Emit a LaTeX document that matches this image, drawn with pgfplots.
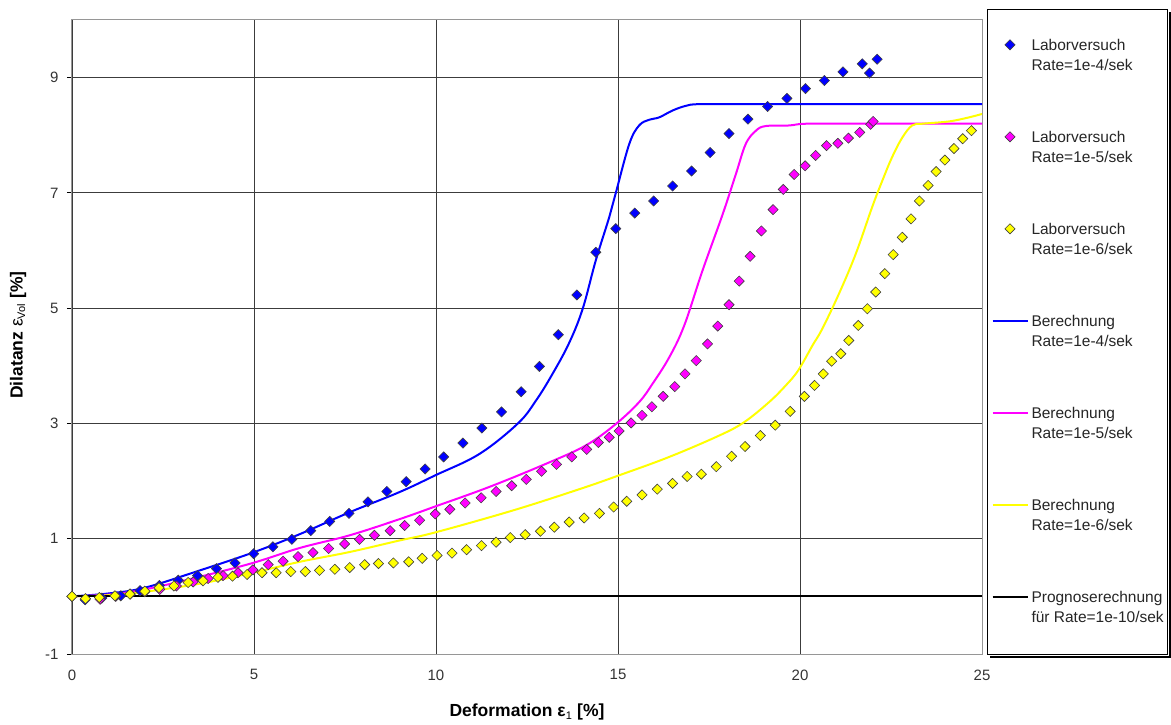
\documentclass[border=0pt]{standalone}
\usepackage{fontspec}
\setmainfont{Liberation Sans}
\usepackage{pgfplots}
\pgfplotsset{compat=1.18}

\definecolor{exblue}{RGB}{0,0,255}
\definecolor{exmag}{RGB}{255,0,255}
\definecolor{exyel}{RGB}{255,255,0}
\definecolor{gridc}{RGB}{60,60,60}
\definecolor{framec}{RGB}{150,150,150}

\pgfplotsset{
  leg line/.style={legend image code/.code={\draw[##1] (0pt,5.5pt) -- (35pt,5.5pt);}},
  leg mark/.style={legend image code/.code={\draw[##1] plot coordinates {(17.5pt,5.5pt)};}},
  labmark/.style={only marks, mark=square*, mark size=3.6pt,
    mark options={rotate=45, draw=black!75, line width=0.6pt, fill=#1}},
  calc line/.style={#1, line width=2pt, smooth, tension=0.6},
}

\newcommand{\legtext}[2]{\begin{tabular}[t]{@{}l@{}}#1\\#2\end{tabular}}

\begin{document}
\begin{tikzpicture}[x=1pt,y=1pt]
\path[use as bounding box] (0,0) rectangle (1171,724);
\begin{axis}[
  at={(72pt,70pt)}, anchor=south west,
  scale only axis, width=910pt, height=634pt,
  xmin=0, xmax=25, ymin=-1, ymax=10,
  xtick={0,5,10,15,20,25}, xticklabels={0,5,10,15,20,25},
  ytick={-1,1,3,5,7,9}, yticklabels={-1,1,3,5,7,9},
  xmajorgrids, ymajorgrids,
  grid style={gridc, line width=0.9pt},
  axis line style={framec, line width=1pt},
  tick align=outside, major tick length=5pt, tick pos=left,
  xtick style={draw=none},
  ytick style={black, line width=0.9pt},
  ticklabel style={font=\fontsize{15}{18}\selectfont, text=black!80},
  xticklabel style={yshift=-7pt},
  yticklabel style={xshift=-5pt},
  xlabel={\textbf{Deformation ε}\textsubscript{\fontsize{11}{12}\selectfont 1}\textbf{ [\%]}},
  ylabel={\textbf{Dilatanz} ε\textsubscript{\fontsize{11}{12}\selectfont Vol}\textbf{ [\%]}},
  xlabel style={at={(axis description cs:0.5,-0.0915)}, anchor=center, font=\fontsize{17.5}{20}\selectfont},
  ylabel style={at={(axis description cs:-0.0593,0.503)}, anchor=center, font=\fontsize{17.5}{20}\selectfont},
  legend style={name=lgd, at={(1.00549,1.01735)}, anchor=north west, draw=black, line width=1pt, fill=white,
    inner xsep=4pt, inner ysep=27pt, row sep=52.6pt, column sep=3pt,
    font=\fontsize{15.5}{19.7}\selectfont, cells={anchor=base west},
    nodes={inner sep=0pt, text=black!85, text height=13.8pt, text depth=25.6pt}},
]

% legend entries
\addlegendimage{labmark=exblue, leg mark}
\addlegendentry{\legtext{Laborversuch}{Rate=1e-4/sek}}
\addlegendimage{labmark=exmag, leg mark}
\addlegendentry{\legtext{Laborversuch}{Rate=1e-5/sek}}
\addlegendimage{labmark=exyel, leg mark}
\addlegendentry{\legtext{Laborversuch}{Rate=1e-6/sek}}
\addlegendimage{exblue, line width=2pt, leg line}
\addlegendentry{\legtext{Berechnung}{Rate=1e-4/sek}}
\addlegendimage{exmag, line width=2pt, leg line}
\addlegendentry{\legtext{Berechnung}{Rate=1e-5/sek}}
\addlegendimage{exyel, line width=2pt, leg line}
\addlegendentry{\legtext{Berechnung}{Rate=1e-6/sek}}
\addlegendimage{black, line width=2pt, leg line}
\addlegendentry{\legtext{Prognoserechnung}{für Rate=1e-10/sek}}

% Berechnung Rate=1e-4/sek
\addplot[calc line=exblue, forget plot] coordinates {
(0,0) (1,0.05) (2,0.15) (3.51,0.45) (4.97,0.76) (6.26,1.08) (7.63,1.46) (9.0,1.81)
(9.98,2.10) (11.19,2.47) (12.25,3.0) (12.75,3.40) (13.21,3.87) (13.66,4.40) (14.03,4.99)
(14.39,5.83) (14.76,6.58) (14.94,7.0) (15.31,7.85) (15.58,8.17) (15.86,8.27) (16.13,8.31)
(16.50,8.43) (16.86,8.51) (17.23,8.54) (18.5,8.54) (25,8.54)};

% Berechnung Rate=1e-5/sek
\addplot[calc line=exmag, forget plot] coordinates {
(0,0) (1,0.03) (2,0.12) (3.51,0.34) (4.97,0.58) (6.26,0.84) (7.63,1.06) (9.0,1.34)
(9.98,1.56) (11.47,1.90) (13.02,2.30) (14.12,2.62) (14.94,2.99) (15.58,3.37) (15.95,3.69)
(16.41,4.15) (16.82,4.70) (17.32,5.65) (17.87,6.62) (18.24,7.33) (18.51,7.85) (18.79,8.08)
(19.06,8.16) (19.70,8.17) (20.16,8.20) (21.5,8.20) (25,8.20)};

% Berechnung Rate=1e-6/sek
\addplot[calc line=exyel, forget plot] coordinates {
(0,0) (1,0.02) (2,0.08) (3.51,0.22) (4.97,0.41) (6.26,0.60) (7.63,0.77) (9.0,0.97)
(9.98,1.11) (12.11,1.49) (13.94,1.86) (15.03,2.10) (16.41,2.42) (17.78,2.79) (18.46,3.02)
(19.15,3.37) (19.61,3.66) (19.95,3.92) (20.34,4.35) (20.61,4.64) (21.07,5.25) (21.53,5.94)
(21.98,6.75) (22.26,7.21) (22.53,7.62) (22.81,7.96) (23.08,8.17) (23.36,8.20) (24.09,8.24)
(24.64,8.31) (25,8.37)};

% Prognoserechnung Rate=1e-10/sek
\addplot[black, line width=2pt, forget plot] coordinates {(0,0) (25,0)};

% Laborversuch Rate=1e-4/sek
\addplot[labmark=exblue, forget plot] coordinates {
(0,0) (0.36,-0.06) (0.82,-0.03) (1.34,0.01) (1.87,0.10) (2.40,0.19) (2.92,0.28) (3.45,0.36)
(3.97,0.48) (4.48,0.58) (4.99,0.74) (5.52,0.86) (6.04,0.99) (6.56,1.14) (7.08,1.30)
(7.61,1.44) (8.13,1.64) (8.65,1.82) (9.18,1.99) (9.70,2.21) (10.21,2.42) (10.74,2.66)
(11.26,2.92) (11.80,3.20) (12.34,3.55) (12.84,3.99) (13.36,4.54) (13.87,5.23) (14.39,5.97)
(14.94,6.38) (15.46,6.65) (15.98,6.86) (16.50,7.12) (17.02,7.38) (17.53,7.70) (18.05,8.03)
(18.57,8.28) (19.11,8.50) (19.64,8.64) (20.15,8.81) (20.67,8.95) (21.18,9.10) (21.71,9.24)
(21.91,9.08) (22.12,9.32)};

% Laborversuch Rate=1e-5/sek
\addplot[labmark=exmag, forget plot] coordinates {
(0,0) (0.77,-0.05) (1.20,0.0) (1.60,0.04) (2.0,0.08) (2.41,0.12) (2.87,0.18) (3.33,0.25)
(3.74,0.31) (4.15,0.36) (4.56,0.41) (4.97,0.46) (5.39,0.55) (5.80,0.61) (6.21,0.69)
(6.62,0.76) (7.05,0.83) (7.49,0.91) (7.90,0.99) (8.31,1.06) (8.74,1.14) (9.14,1.23)
(9.55,1.32) (9.98,1.43) (10.38,1.51) (10.80,1.62) (11.24,1.71) (11.65,1.82) (12.08,1.92)
(12.48,2.03) (12.90,2.17) (13.31,2.29) (13.73,2.42) (14.14,2.55) (14.46,2.67) (14.76,2.76)
(15.03,2.87) (15.36,3.01) (15.66,3.14) (15.93,3.29) (16.24,3.47) (16.56,3.64) (16.84,3.86)
(17.15,4.09) (17.46,4.38) (17.74,4.69) (18.05,5.06) (18.33,5.47) (18.63,5.90) (18.94,6.34)
(19.26,6.71) (19.54,7.06) (19.84,7.32) (20.14,7.47) (20.43,7.65) (20.73,7.82) (21.04,7.86)
(21.33,7.95) (21.64,8.05) (21.94,8.19) (22.01,8.24)};

% Laborversuch Rate=1e-6/sek
\addplot[labmark=exyel, forget plot] coordinates {
(0,0) (0.37,-0.04) (0.75,-0.02) (1.18,0.01) (1.59,0.04) (2.0,0.09) (2.39,0.15) (2.80,0.18)
(3.19,0.24) (3.60,0.27) (4.01,0.33) (4.41,0.35) (4.81,0.38) (5.22,0.41) (5.61,0.41)
(6.01,0.43) (6.41,0.43) (6.80,0.45) (7.22,0.47) (7.63,0.50) (8.04,0.55) (8.42,0.57)
(8.83,0.58) (9.25,0.60) (9.62,0.66) (10.03,0.71) (10.44,0.75) (10.84,0.81) (11.25,0.88)
(11.65,0.94) (12.04,1.02) (12.45,1.07) (12.87,1.13) (13.25,1.20) (13.66,1.29) (14.07,1.36)
(14.49,1.44) (14.88,1.55) (15.24,1.65) (15.66,1.76) (16.08,1.86) (16.50,1.96) (16.90,2.08)
(17.29,2.12) (17.70,2.25) (18.12,2.43) (18.49,2.60) (18.91,2.79) (19.32,2.97) (19.73,3.21)
(20.12,3.47) (20.40,3.66) (20.64,3.86) (20.87,4.08) (21.12,4.21) (21.34,4.44) (21.60,4.70)
(21.85,4.99) (22.08,5.28) (22.33,5.60) (22.56,5.93) (22.81,6.23) (23.05,6.55) (23.28,6.86)
(23.52,7.13) (23.74,7.37) (23.98,7.57) (24.23,7.77) (24.47,7.94) (24.71,8.08)};

\end{axis}
% shadow along the right and bottom edges of the legend box
\fill[black] ([xshift=0.5pt,yshift=-3pt]lgd.north east) rectangle ([xshift=3pt,yshift=-3pt]lgd.south east);
\fill[black] ([xshift=3pt,yshift=-0.5pt]lgd.south west) rectangle ([xshift=3pt,yshift=-3pt]lgd.south east);
\end{tikzpicture}
\end{document}
